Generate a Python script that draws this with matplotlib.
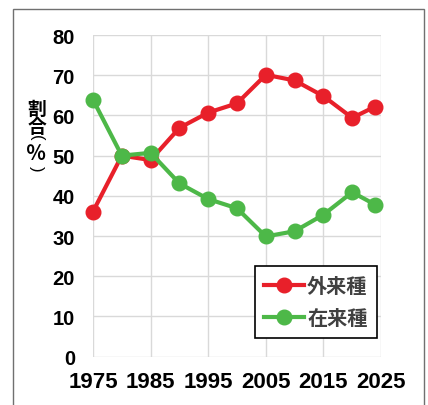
import matplotlib
matplotlib.use("Agg")
import matplotlib.pyplot as plt
from matplotlib.patches import Rectangle

years = [1975, 1980, 1985, 1990, 1995, 2000, 2005, 2010, 2015, 2020, 2024]
alien = [36.1, 50.0, 48.9, 56.9, 60.7, 63.0, 70.1, 68.7, 64.8, 59.4, 62.2]
native = [63.9, 50.0, 50.7, 43.1, 39.2, 36.9, 29.9, 31.2, 35.3, 40.9, 37.8]
series_labels = ["外来種", "在来種"]
ylabel_chars = ["割", "合", "(", "％", ")"]
xticks = [1975, 1985, 1995, 2005, 2015, 2025]
yticks = [0, 10, 20, 30, 40, 50, 60, 70, 80]

RED = "#E8202A"
GREEN = "#4DB848"

plt.rcParams['font.family'] = ['Liberation Sans', 'Noto Sans CJK JP', 'DejaVu Sans']

fig = plt.figure(figsize=(4.28, 4.06), dpi=100)
fig.patch.set_facecolor("white")

# outer frame
fig.patches.append(Rectangle((13.5/428, -0.05), (423.5-13.5)/428, 1.05 - 9.5/406,
                             transform=fig.transFigure, fill=False,
                             edgecolor="#707070", linewidth=1.0))

ax = fig.add_axes([93/428, 48.3/406, 288/428, 321.7/406])
ax.set_xlim(1975, 2025)
ax.set_ylim(0, 80)
ax.set_xticks(xticks)
ax.set_yticks(yticks)
ax.grid(True, color="#D9D9D9", linewidth=1.0)
ax.set_axisbelow(True)
for s in ax.spines.values():
    s.set_visible(False)
ax.tick_params(length=0)
ax.tick_params(axis='x', pad=10)
ax.tick_params(axis='y', pad=13)
for lab in ax.get_xticklabels():
    lab.set_fontsize(16)
    lab.set_fontweight('bold')
for lab in ax.get_yticklabels():
    lab.set_fontsize(14.5)
    lab.set_fontweight('bold')

ax.plot(years, alien, color=RED, linewidth=3, marker='o', markersize=10.5,
        label=series_labels[0], clip_on=False, zorder=3)
ax.plot(years, native, color=GREEN, linewidth=3, marker='o', markersize=10.5,
        label=series_labels[1], clip_on=False, zorder=3)

leg = ax.legend(loc='lower right', bbox_to_anchor=(376.5/428, (406-338.5)/406),
                bbox_transform=fig.transFigure, frameon=True, fancybox=False,
                edgecolor="black", framealpha=1, handlelength=2.0,
                handletextpad=0.15, borderpad=0.45, labelspacing=0.55,
                borderaxespad=0,
                prop={'family': ['Noto Sans CJK JP'], 'weight': 'bold', 'size': 14.5})
leg.get_frame().set_linewidth(1.2)
for t in leg.get_texts():
    t.set_color("#404040")

# vertical y-axis label, one character per line (parentheses turned for vertical writing)
ylabel_y = [109, 128, 138, 153.5, 169]
ylabel_rot = [0, 0, -90, 0, -90]
ylabel_size = [13.5, 13.5, 12, 14.5, 12]
ylabel_weight = ['bold', 'bold', 'normal', 'bold', 'normal']
ylabel_fam = [['Noto Sans CJK JP'], ['Noto Sans CJK JP'], ['Liberation Sans'],
              ['Noto Sans CJK JP'], ['Liberation Sans']]
for ch, yp, rot, sz, wt, fam in zip(ylabel_chars, ylabel_y, ylabel_rot,
                                     ylabel_size, ylabel_weight, ylabel_fam):
    fig.text(36.5/428, (406-yp)/406, ch, ha='center', va='center',
             fontsize=sz, fontweight=wt, rotation=rot,
             rotation_mode='default', family=fam)

fig.savefig("out.png", dpi=100)
